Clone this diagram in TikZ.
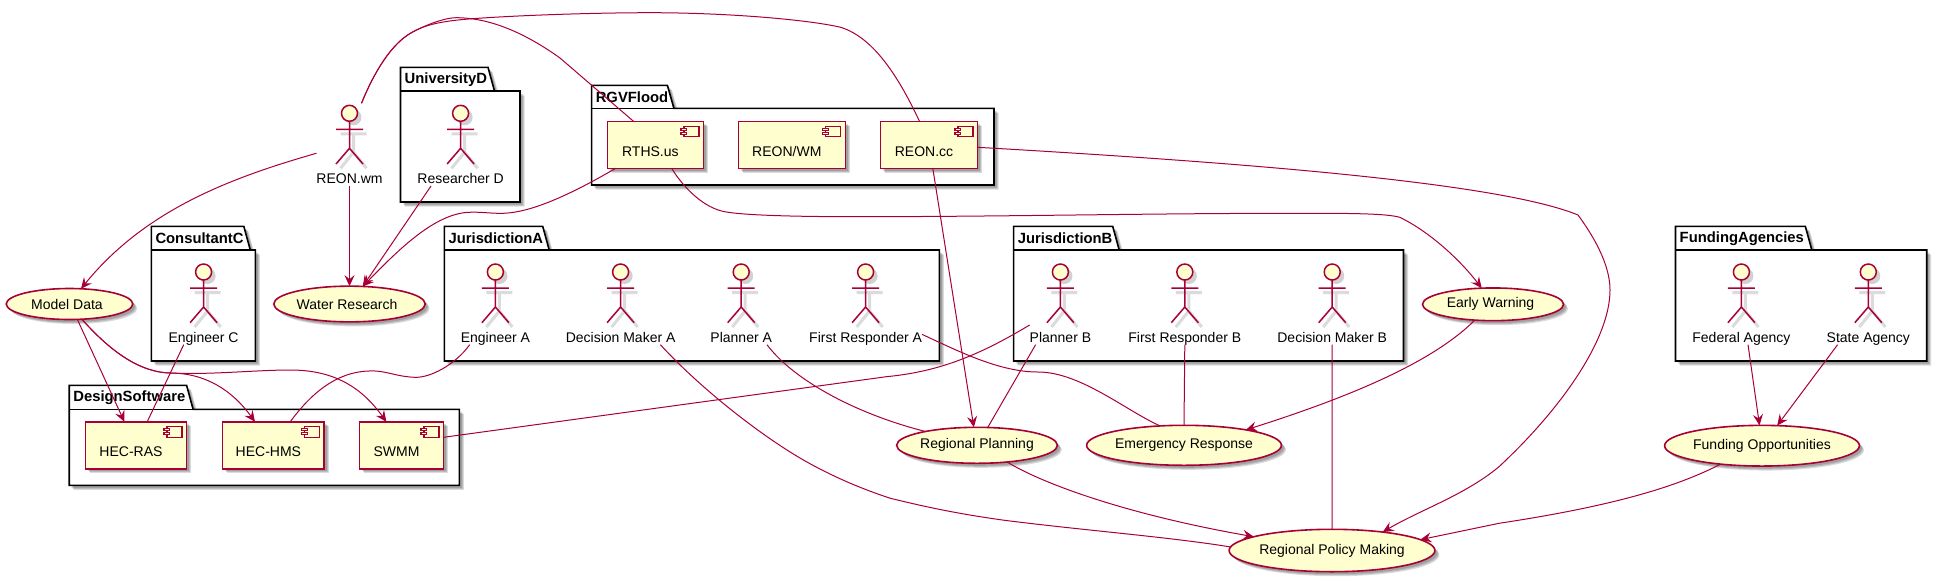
\documentclass[tikz,border=0pt]{standalone}
\usepackage{fontspec}
\setmainfont{Liberation Sans}
\usetikzlibrary{arrows.meta,shapes.geometric,shadows}
\definecolor{umlred}{HTML}{A80036}
\definecolor{umlfill}{HTML}{FEFECE}
\begin{document}
\begin{tikzpicture}[x=1pt,y=-1pt,
  softshade/.style={
    general shadow={shadow xshift=2.5pt,shadow yshift=-2.5pt,fill=black,opacity=.14},
    general shadow={shadow xshift=3.5pt,shadow yshift=-3.5pt,fill=black,opacity=.14},
    general shadow={shadow xshift=4.5pt,shadow yshift=-4.5pt,fill=black,opacity=.14}},
  pkgline/.style={draw=black,line width=1.6pt,line join=miter,fill=white},
  pkgtitle/.style={font=\fontsize{14.8}{16}\selectfont\bfseries,inner sep=0pt,anchor=west},
  actorbox/.style={font=\fontsize{14}{16}\selectfont,inner sep=0pt,outer sep=0pt,anchor=base,text height=80pt,text depth=2.7pt},
  stick/.style={draw=umlred,line width=1.5pt},
  stickshade/.style={draw=black!14,line width=3pt},
  compnode/.style={draw=umlred,fill=umlfill,line width=1.6pt,inner sep=0pt,outer sep=0pt,font=\fontsize{14}{16}\selectfont,minimum height=47pt,softshade},
  iconline/.style={draw=umlred,fill=umlfill,line width=1.3pt},
  usecase/.style={ellipse,draw=umlred,fill=umlfill,line width=1.6pt,inner sep=0pt,outer sep=0pt,font=\fontsize{14}{16}\selectfont,softshade},
  leftlabel/.style={execute at end node={\kern5pt}},
  link/.style={draw=umlred,line width=1pt},
  arrowlink/.style={link,-{Stealth[length=11pt,width=10pt,inset=4pt]}}]

\useasboundingbox (0,0) rectangle (1942,582);

\newcommand\pkgbox[8]{
  \draw[pkgline,softshade] (#3,#5) -- (#4,#5) -- ({#4+6.5},#6) -- (#7,#6) -- (#7,#8) -- (#3,#8) -- cycle;
  \draw[pkgline] (#3,#6) -- ({#4+6.5},#6);
  \node[pkgtitle] (#1) at ({#3+4},{#5+12}) {#2};
}
\newcommand\actorman[4]{
  \draw[stickshade] ({#2+4-13},{#3+20.5}) -- ({#2+4+13},{#3+20.5})
    ({#2+4},{#3+20}) -- ({#2+4},{#3+39}) ({#2+4-13},{#3+55}) -- ({#2+4},{#3+39}) -- ({#2+4+13},{#3+55});
  \fill[black!18] ({#2+4},{#3+4}) circle (8);
  \draw[stick,fill=umlfill] (#2,#3) circle (8);
  \draw[stick] (#2-13.5,#3+16) -- (#2+13.5,#3+16) (#2,#3+8) -- (#2,#3+35)
    (#2-13.5,#3+50.7) -- (#2,#3+35) -- (#2+13.5,#3+50.7);
  \node[actorbox] (#1) at (#2,#3+70) {#4};
}
\newcommand\compbox[5]{
  \node[compnode,minimum width=#3pt] (#1) at (#2,#4) {\smash{\raisebox{-11.5pt}{#5}}\kern10pt};
  \draw[iconline] ([xshift=-19.5pt,yshift=-5pt]#1.north east) rectangle ([xshift=-4.5pt,yshift=-15.4pt]#1.north east);
  \draw[iconline] ([xshift=-22.5pt,yshift=-7pt]#1.north east) rectangle ([xshift=-17pt,yshift=-9pt]#1.north east);
  \draw[iconline] ([xshift=-22.5pt,yshift=-11pt]#1.north east) rectangle ([xshift=-17pt,yshift=-13pt]#1.north east);
}

%% packages
\pkgbox{univd}{UniversityD}{400.5}{488}{67.3}{91}{520}{202}
\pkgbox{rgv}{RGVFlood}{591.6}{667.4}{85.3}{108.3}{994}{185}
\pkgbox{consc}{ConsultantC}{151.3}{243.8}{226.3}{250}{255.4}{361}
\pkgbox{jurisa}{JurisdictionA}{444.4}{542.7}{226.3}{250}{939.4}{361}
\pkgbox{jurisb}{JurisdictionB}{1013.6}{1112.7}{226.3}{250}{1403.5}{361}
\pkgbox{funding}{FundingAgencies}{1675.5}{1805.3}{226.3}{250}{1926.7}{361}
\pkgbox{design}{DesignSoftware}{69.2}{186.6}{385.3}{409.3}{459.4}{485.3}

%% actors
\actorman{reonwm}{349.5}{113.3}{REON.wm}
\actorman{resd}{460.6}{113.3}{Researcher D}
\actorman{engc}{203.6}{272}{Engineer C}
\actorman{enga}{495.4}{272}{Engineer A}
\actorman{dma}{620.6}{272}{Decision Maker A}
\actorman{pla}{741.2}{272}{Planner A}
\actorman{fra}{865.6}{272}{First Responder A}
\actorman{plb}{1060.4}{272}{Planner B}
\actorman{frb}{1184.8}{272}{First Responder B}
\actorman{dmb}{1332.2}{272}{Decision Maker B}
\actorman{fed}{1741.4}{272}{Federal Agency}
\actorman{state}{1868.3}{272}{State Agency}

%% components
\compbox{rths}{655.4}{96}{144.8}{RTHS.us}
\compbox{reonwmc}{791.8}{107}{144.8}{REON/WM}
\compbox{reoncc}{929}{97}{144.8}{REON.cc}
\compbox{hecras}{136}{101.2}{445.3}{HEC-RAS}
\compbox{hechms}{273.4}{101.6}{445.3}{HEC-HMS}
\compbox{swmm}{401.5}{84.1}{445.3}{SWMM}

%% use cases
\node[usecase,leftlabel,minimum width=126.5pt,minimum height=31pt] (model) at (69.5,304) {Model Data};
\node[usecase,leftlabel,minimum width=151.4pt,minimum height=35.7pt] (water) at (349.5,304) {Water Research};
\node[usecase,leftlabel,minimum width=141pt,minimum height=32.7pt] (early) at (1493,304.3) {Early Warning};
\node[usecase,minimum width=160.8pt,minimum height=36pt] (planning) at (977,445.3) {Regional Planning};
\node[usecase,minimum width=180.8pt,minimum height=40pt] (emerg) at (1184,445.3) {Emergency Response};
\node[usecase,minimum width=183.3pt,minimum height=40.7pt] (fundopp) at (1762,445.7) {Funding Opportunities};
\node[usecase,minimum width=186.8pt,minimum height=42.4pt] (policy) at (1332,550.5) {Regional Policy Making};

%% links from REON.wm
\draw[arrowlink] ([yshift=-8.6pt]reonwm.west) .. controls (230,178) and (145,210) .. (model.53);
\draw[arrowlink] (reonwm.south) -- (water.north);
\draw[link] ([xshift=12pt]reonwm.north) .. controls (375,70) and (392,44) .. (410.4,33.3)
  .. controls (425,25) and (445,17.7) .. (456,17.7) .. controls (490,17.7) and (525,33) .. (560,58) -- ([xshift=-21.9pt]rths.north);
\draw[link] ([xshift=12pt]reonwm.north) .. controls (375,70) and (392,44) .. (410.4,33.3)
  .. controls (425,24) and (445,21) .. (468.5,19) .. controls (520,15) and (600,12.7) .. (650,12.7)
  .. controls (730,12.7) and (810,20) .. (840.7,27.3) .. controls (875,38) and (900,80) .. ([xshift=-9.5pt]reoncc.north);

%% links to Water Research
\draw[arrowlink] ([xshift=-29.6pt]resd.south) -- (water.53);
\draw[arrowlink] ([xshift=-39.7pt]rths.south) .. controls (570,195) and (535,210) .. (510,212.8)
  .. controls (495,214.5) and (483,211.5) .. (468.5,212.3) .. controls (435,214) and (400,248) .. (water.53);

%% links from RGVFlood
\draw[arrowlink] ([xshift=16.2pt]rths.south) .. controls (685,190) and (705,208) .. (724.6,211.7)
  .. controls (745,215.5) and (800,216.7) .. (857,216.7) .. controls (1000,216.7) and (1150,213.3) .. (1292,213.3)
  .. controls (1340,213.3) and (1385,213) .. (1399.8,217.3) .. controls (1430,232) and (1460,260) .. (early.125);
\draw[arrowlink] ([xshift=3.8pt]reoncc.south) -- (planning.100);
\draw[arrowlink] ([yshift=-2.5pt]reoncc.east) .. controls (1250,163) and (1500,183) .. (1578,215)
  .. controls (1600,245) and (1610,270) .. (1610,290) .. controls (1610,340) and (1560,410) .. (1499,466.7)
  .. controls (1465,495) and (1420,510) .. (policy.20.5);

%% links to Regional Policy Making
\draw[arrowlink] (fundopp.204) .. controls (1680,485) and (1620,505) .. (1499,523.3) -- (policy.7);
\draw[arrowlink] (planning.-29.5) .. controls (1045,485) and (1130,515) .. (policy.170.3);
\draw[link] (dmb.south) -- (policy.north);
\draw[link] ([xshift=39.8pt]dma.south) .. controls (700,388) and (760,435) .. (803.4,460)
  .. controls (835,478) and (865,490) .. (890.5,498.3) .. controls (930,508) and (960,514) .. (1002.4,520)
  .. controls (1080,530) and (1170,537) .. (policy.178);

%% funding
\draw[arrowlink] ([xshift=6.6pt]fed.south) -- (fundopp.97);
\draw[arrowlink] ([xshift=-30.7pt]state.south) -- (fundopp.53);

%% emergency
\draw[arrowlink] (early.221) .. controls (1430,365) and (1340,400) .. (emerg.14.5);
\draw[link] (frb.south) -- (emerg.north);
\draw[link] ([yshift=-31pt]fra.east) .. controls (960,352) and (1000,372) .. (1038,372)
  .. controls (1080,372) and (1125,410) .. (emerg.141);

%% planning
\draw[link] ([xshift=-24.8pt]plb.south) -- (planning.59);
\draw[link] ([xshift=25.8pt]pla.south) .. controls (795,382) and (860,415) .. (planning.165.8);

%% design software
\draw[link] ([yshift=-21.6pt]plb.west) .. controls (975,358) and (935,372) .. (886.3,376.7) -- ([yshift=8pt]swmm.east);
\draw[arrowlink] (model.-63) -- ([xshift=-11.6pt]hecras.north);
\draw[arrowlink] (model.-51) .. controls (105,345) and (135,372) .. (170,373)
  .. controls (205,373) and (232,390) .. ([xshift=-18.4pt]hechms.north);
\draw[arrowlink] (model.-51) .. controls (105,345) and (135,372) .. (170,373)
  .. controls (210,375) and (255,370) .. (290.2,370) .. controls (335,370) and (362,388) .. ([xshift=-15.1pt]swmm.north);
\draw[link] ([xshift=-19.9pt]engc.south) -- ([xshift=11.2pt]hecras.north);
\draw[link] ([xshift=-25.7pt]enga.south) .. controls (455,365) and (430,378) .. (414.6,377.3)
  .. controls (395,376.5) and (385,370) .. (369,371) .. controls (335,372) and (310,395) .. ([xshift=16.8pt]hechms.north);

\end{tikzpicture}
\end{document}
